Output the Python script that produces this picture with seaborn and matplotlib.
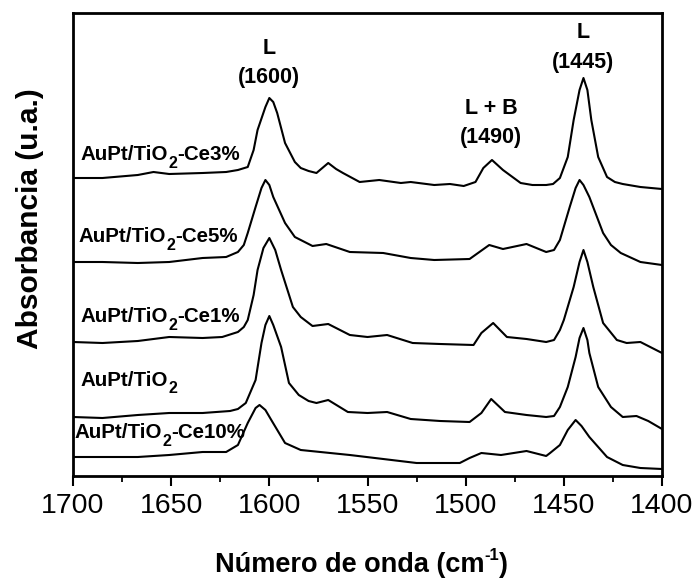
import matplotlib
matplotlib.use("Agg")
import matplotlib.pyplot as plt
from matplotlib.ticker import MultipleLocator
import pandas as pd
import seaborn as sns

# Stacked FTIR spectra of adsorbed pyridine (offset absorbance, arbitrary units)
wn_ce3 = [1700, 1685, 1667, 1659, 1651, 1634, 1622, 1616, 1611, 1608, 1606, 1602, 1600,
          1598, 1596, 1592, 1587, 1584, 1580, 1576, 1573, 1570, 1566, 1562.5, 1554, 1544,
          1533, 1528, 1516, 1508, 1501, 1495, 1491, 1486.6, 1481, 1472, 1466, 1459,
          1455.5, 1452, 1448, 1445, 1442, 1440, 1438, 1436, 1432.5, 1428, 1424, 1420,
          1411, 1400]
ab_ce3 = [2.98, 2.98, 3.01, 3.04, 3.02, 3.03, 3.04, 3.06, 3.09, 3.26, 3.46, 3.69, 3.78,
          3.74, 3.63, 3.33, 3.14, 3.08, 3.05, 3.03, 3.08, 3.13, 3.07, 3.03, 2.94, 2.96,
          2.93, 2.94, 2.91, 2.92, 2.90, 2.94, 3.08, 3.16, 3.06, 2.93, 2.91, 2.91,
          2.92, 2.98, 3.19, 3.56, 3.86, 3.98, 3.86, 3.56, 3.19, 2.99, 2.94, 2.92,
          2.89, 2.87]

wn_ce5 = [1700, 1685, 1667, 1651, 1634, 1622, 1616, 1613, 1611, 1607, 1604, 1602, 1600,
          1598, 1592, 1587, 1584, 1578, 1571, 1559, 1542, 1528, 1516, 1498, 1493, 1488,
          1481, 1469, 1459, 1455, 1452, 1447, 1444, 1442, 1440, 1437, 1430, 1426, 1421,
          1411, 1400]
ab_ce5 = [2.14, 2.14, 2.13, 2.14, 2.18, 2.19, 2.24, 2.31, 2.43, 2.69, 2.88, 2.96, 2.91,
          2.79, 2.53, 2.39, 2.36, 2.30, 2.32, 2.24, 2.23, 2.18, 2.16, 2.17, 2.24, 2.31,
          2.27, 2.32, 2.24, 2.26, 2.36, 2.69, 2.88, 2.96, 2.91, 2.79, 2.43, 2.31, 2.23,
          2.14, 2.11]

wn_ce1 = [1700, 1685, 1667, 1651, 1634, 1624, 1616, 1613, 1611, 1608, 1606, 1603, 1600,
          1597, 1594, 1588, 1584, 1578, 1570, 1559, 1550, 1540, 1527, 1513, 1496, 1492,
          1486, 1479, 1469, 1459, 1455, 1452, 1450, 1445, 1442, 1440, 1438, 1435, 1430,
          1423, 1418, 1411, 1407, 1400]
ab_ce1 = [1.34, 1.33, 1.35, 1.39, 1.38, 1.39, 1.44, 1.49, 1.56, 1.81, 2.06, 2.28, 2.38,
          2.26, 2.06, 1.69, 1.59, 1.50, 1.52, 1.41, 1.39, 1.41, 1.33, 1.32, 1.31, 1.43,
          1.53, 1.39, 1.37, 1.34, 1.36, 1.46, 1.56, 1.89, 2.14, 2.26, 2.14, 1.89, 1.53,
          1.36, 1.33, 1.34, 1.30, 1.23]

wn_tio2 = [1700, 1685, 1667, 1651, 1634, 1620, 1616, 1612, 1607, 1604, 1602, 1600, 1598,
           1594, 1590, 1585, 1580, 1576, 1570, 1560, 1550, 1540, 1528, 1513, 1498, 1492,
           1487, 1480, 1469, 1459, 1455, 1452, 1448, 1444, 1442, 1440, 1438, 1437,
           1432.5, 1426, 1420, 1413, 1407, 1400]
ab_tio2 = [0.59, 0.58, 0.61, 0.63, 0.63, 0.65, 0.67, 0.73, 0.96, 1.33, 1.51, 1.60, 1.51,
           1.29, 0.93, 0.81, 0.75, 0.73, 0.76, 0.64, 0.63, 0.64, 0.57, 0.55, 0.54, 0.63,
           0.77, 0.64, 0.61, 0.59, 0.60, 0.69, 0.89, 1.19, 1.38, 1.48, 1.36, 1.23,
           0.89, 0.69, 0.59, 0.60, 0.55, 0.47]

wn_ce10 = [1700, 1685, 1667, 1651, 1634, 1622, 1616, 1611, 1607, 1605, 1602, 1599, 1592,
           1584, 1574, 1559, 1542, 1525, 1503, 1498, 1492, 1482, 1469, 1459, 1457, 1452,
           1448, 1444, 1441, 1437, 1428, 1420, 1411, 1400]
ab_ce10 = [0.19, 0.19, 0.19, 0.21, 0.24, 0.24, 0.31, 0.53, 0.68, 0.71, 0.66, 0.56, 0.33,
           0.26, 0.24, 0.21, 0.17, 0.13, 0.13, 0.18, 0.23, 0.21, 0.25, 0.20, 0.23, 0.31,
           0.46, 0.56, 0.50, 0.39, 0.19, 0.11, 0.08, 0.07]

# Sample labels split around the subscript: (before, subscript, after)
sample_names = ["AuPt/TiO2-Ce3%", "AuPt/TiO2-Ce5%", "AuPt/TiO2-Ce1%",
                "AuPt/TiO2", "AuPt/TiO2-Ce10%"]
label_parts = [("AuPt/TiO", "2", "-Ce3%"), ("AuPt/TiO", "2", "-Ce5%"),
               ("AuPt/TiO", "2", "-Ce1%"), ("AuPt/TiO", "2", ""),
               ("AuPt/TiO", "2", "-Ce10%")]
label_x = [1696, 1697, 1696, 1696, 1699]
label_y = [3.21, 2.39, 1.59, 0.96, 0.43]

peak_names = ["L", "L + B", "L"]
peak_positions = ["(1600)", "(1490)", "(1445)"]
peak_tag_x = [1600, 1487, 1440]
peak_name_y = [4.28, 3.68, 4.43]
peak_pos_y = [3.99, 3.39, 4.14]

xticks = [1700, 1650, 1600, 1550, 1500, 1450, 1400]

spectra = [(wn_ce3, ab_ce3), (wn_ce5, ab_ce5), (wn_ce1, ab_ce1),
           (wn_tio2, ab_tio2), (wn_ce10, ab_ce10)]
frames = []
for name, (w, a) in zip(sample_names, spectra):
    frames.append(pd.DataFrame({"wn": w, "abs": a, "sample": name}))
df = pd.concat(frames, ignore_index=True)

sns.set_theme(style="ticks")
plt.rcParams["font.family"] = ["Liberation Sans", "DejaVu Sans"]
plt.rcParams["text.color"] = "black"
plt.rcParams["axes.labelcolor"] = "black"
plt.rcParams["xtick.color"] = "black"
plt.rcParams["axes.edgecolor"] = "black"

fig = plt.figure(figsize=(6.97, 5.83), dpi=100)
ax = fig.add_axes([73 / 697, 1 - 476 / 583, 589 / 697, 463 / 583])

sns.lineplot(data=df, x="wn", y="abs", units="sample", estimator=None, sort=False,
             color="black", linewidth=1.5, ax=ax, legend=False)

ax.set_xlim(1700, 1400)
ax.set_ylim(0, 4.63)
ax.set_xticks(xticks)
ax.set_xticklabels([str(t) for t in xticks], fontsize=20.5)
ax.xaxis.set_minor_locator(MultipleLocator(25))
ax.tick_params(axis="x", which="major", direction="out", length=7.5, width=1.5, pad=5)
ax.tick_params(axis="x", which="minor", direction="out", length=4.5, width=1.3)
ax.set_yticks([])
ax.set_xlabel("")
ax.set_ylabel("")
for s in ax.spines.values():
    s.set_visible(True)
    s.set_linewidth(2)


def chained_text(anchor_artist, sub, rest, size, sub_size, shift):
    """Append a shifted (sub/superscript) piece and trailing text to a text artist."""
    t2 = ax.annotate(sub, xy=(1, 0), xycoords=anchor_artist, xytext=(0, shift),
                     textcoords="offset points", fontsize=sub_size, fontweight="bold",
                     ha="left", va="bottom", annotation_clip=False)
    if rest:
        ax.annotate(rest, xy=(1, 0), xycoords=t2, xytext=(0, -shift),
                    textcoords="offset points", fontsize=size, fontweight="bold",
                    ha="left", va="bottom", annotation_clip=False)
    return t2


# sample labels with a lowered subscript
for (main, sub, rest), lx, ly in zip(label_parts, label_x, label_y):
    t1 = ax.text(lx, ly, main, fontsize=14.8, fontweight="bold", ha="left",
                 va="center")
    chained_text(t1, sub, rest, 14.8, 11.5, -4.5)

# band assignments
for nm, pos, px, ny, py in zip(peak_names, peak_positions, peak_tag_x,
                               peak_name_y, peak_pos_y):
    ax.text(px, ny, nm, fontsize=15.5, fontweight="bold", ha="center", va="center")
    ax.text(px, py, pos, fontsize=15.5, fontweight="bold", ha="center", va="center")

# axis titles
fig.text(30 / 697, 1 - 219 / 583, "Absorbancia (u.a.)", rotation=90, fontsize=21.5,
         fontweight="bold", ha="center", va="center")
xl = fig.text(215 / 697, 1 - 572 / 583, "Número de onda (cm", fontsize=19.5,
              fontweight="bold", ha="left", va="baseline")
chained_text(xl, "-1", ")", 19.5, 12, 11)

fig.savefig("out.png", dpi=100, facecolor="white")
